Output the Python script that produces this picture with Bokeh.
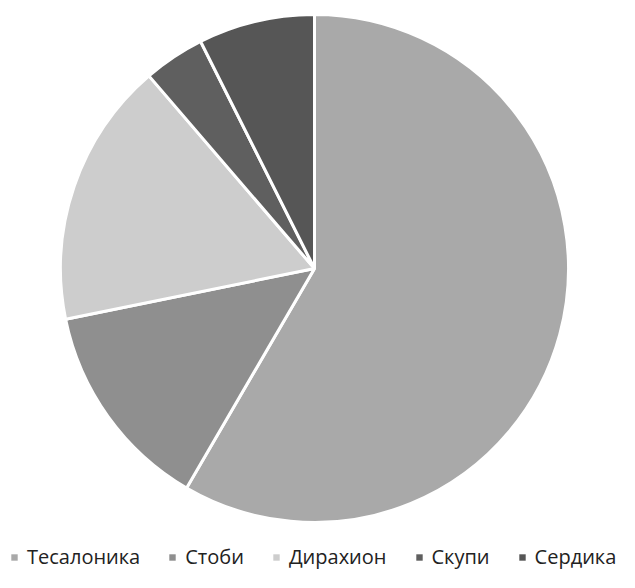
import math
from bokeh.plotting import figure
from bokeh.models import Range1d, Legend, LegendItem, ColumnDataSource
from bokeh.embed import file_html
from bokeh.resources import INLINE

categories = ["Тесалоника", "Стоби", "Дирахион", "Скупи", "Сердика"]
values = [58.4, 13.4, 16.9, 3.9, 7.4]
colors = ["#a9a9a9", "#8f8f8f", "#cdcdcd", "#5f5f5f", "#565656"]

total = sum(values)
starts, ends = [], []
acc = 0.0
for v in values:
    a0 = math.pi / 2 - 2 * math.pi * acc / total
    acc += v
    a1 = math.pi / 2 - 2 * math.pi * acc / total
    starts.append(a0)
    ends.append(a1)

W, H = 619, 572
# data units equal screen pixels; y measured upward from the page bottom (588)
p = figure(width=W, height=H, output_backend="svg", toolbar_location=None,
           x_range=Range1d(0, W), y_range=Range1d(588 - H, 588),
           min_border=0, outline_line_color=None)
p.axis.visible = False
p.grid.visible = False

cx, cy, r = 314, 588 - 268, 254
legend_renderers = []
for i, c in enumerate(categories):
    src = ColumnDataSource(dict(x=[cx], y=[cy], s=[starts[i]], e=[ends[i]]))
    p.wedge(x="x", y="y", radius=r, start_angle="s", end_angle="e",
            direction="clock", fill_color=colors[i], line_color="white",
            line_width=3, source=src)
    # zero-radius copy without outline: only its legend swatch is visible
    lr = p.wedge(x="x", y="y", radius=0, start_angle="s", end_angle="e",
                 direction="clock", fill_color=colors[i], line_color=None,
                 source=src)
    legend_renderers.append(lr)

legend = Legend(items=[LegendItem(label=c, renderers=[legend_renderers[i]]) for i, c in enumerate(categories)],
                orientation="horizontal", location=(10, 2),
                glyph_width=8, glyph_height=8, label_standoff=9, spacing=28,
                label_text_font="Open Sans", label_text_font_size="20px",
                label_text_color="#222222", border_line_color=None,
                background_fill_alpha=0, padding=0, margin=0)
p.add_layout(legend, "center")

open("out.html", "w").write(file_html(p, INLINE))
